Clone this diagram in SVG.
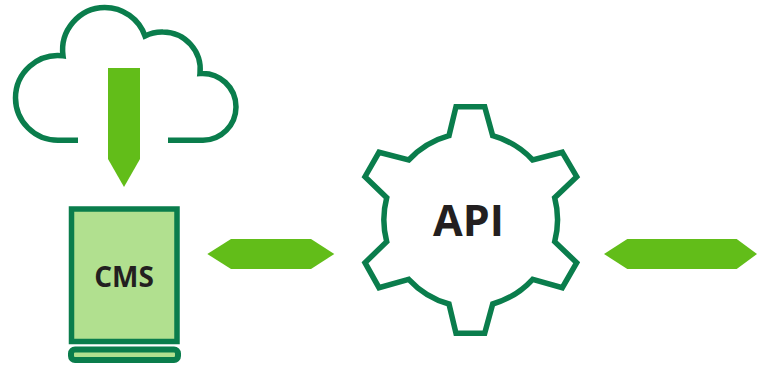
<svg xmlns="http://www.w3.org/2000/svg" width="757" height="366" viewBox="0 0 757 366">
<style>
.line{fill:none;stroke:#0a7d4c;stroke-width:5.500;stroke-miterlimit:10}
.box{fill:#b1e08f;stroke:#0a7d4c}
.arrow{fill:#62bd19}
.label{font-family:"Open Sans","Liberation Sans",sans-serif;font-weight:700;fill:#231f20;text-anchor:middle}
</style>
<rect width="757" height="366" fill="#fff"/>
<g id="cloud">
<path class="line" d="M78 140.300H58A42.500 42.500 0 0 1 15.500 98A42.500 42.500 0 0 1 63 55.800A42.700 42.700 0 0 1 104.700 7.500A42.700 42.700 0 0 1 145 36A37.500 37.500 0 0 1 163 32A37.500 37.500 0 0 1 200 73.500A33.500 33.500 0 0 1 236 107A33.500 33.500 0 0 1 203 140.300H168"/>
</g>
<g id="cms">
<rect class="box" x="71.500" y="209" width="105.500" height="132.500" stroke-width="5.500"/>
<rect class="box" x="71" y="349.500" width="107" height="10.500" rx="4" stroke-width="6"/>
<text class="label" x="124" y="287" font-size="28">CMS</text>
</g>
<g id="api">
<path class="line" d="M456 106.700H484.700L492.700 135.700A87 87 0 0 1 532.700 160L562.300 152.300L576.700 176.700L554.700 197.700A87 87 0 0 1 554.700 241.700L576.700 262.700L562.300 287.700L532.700 279.300A87 87 0 0 1 492.700 304L484.700 333.300H456L449 304A87 87 0 0 1 408.700 279.300L379 287.700L365 262.700L386.700 241.700A87 87 0 0 1 386.700 197.700L365 176.700L379 152.300L408.700 160A87 87 0 0 1 449 135.700Z"/>
<text class="label" x="468.500" y="236" font-size="43">API</text>
</g>
<g id="connectors">
<polygon class="arrow" points="108,68 140,68 140,159 124,187 108,159"/>
<polygon class="arrow" points="207.300,254 231,239 311,239 334.300,254 311,269 231,269"/>
<polygon class="arrow" points="604,254 627.300,239 736.700,239 757,254 736.700,269 627.300,269"/>
</g>
</svg>
